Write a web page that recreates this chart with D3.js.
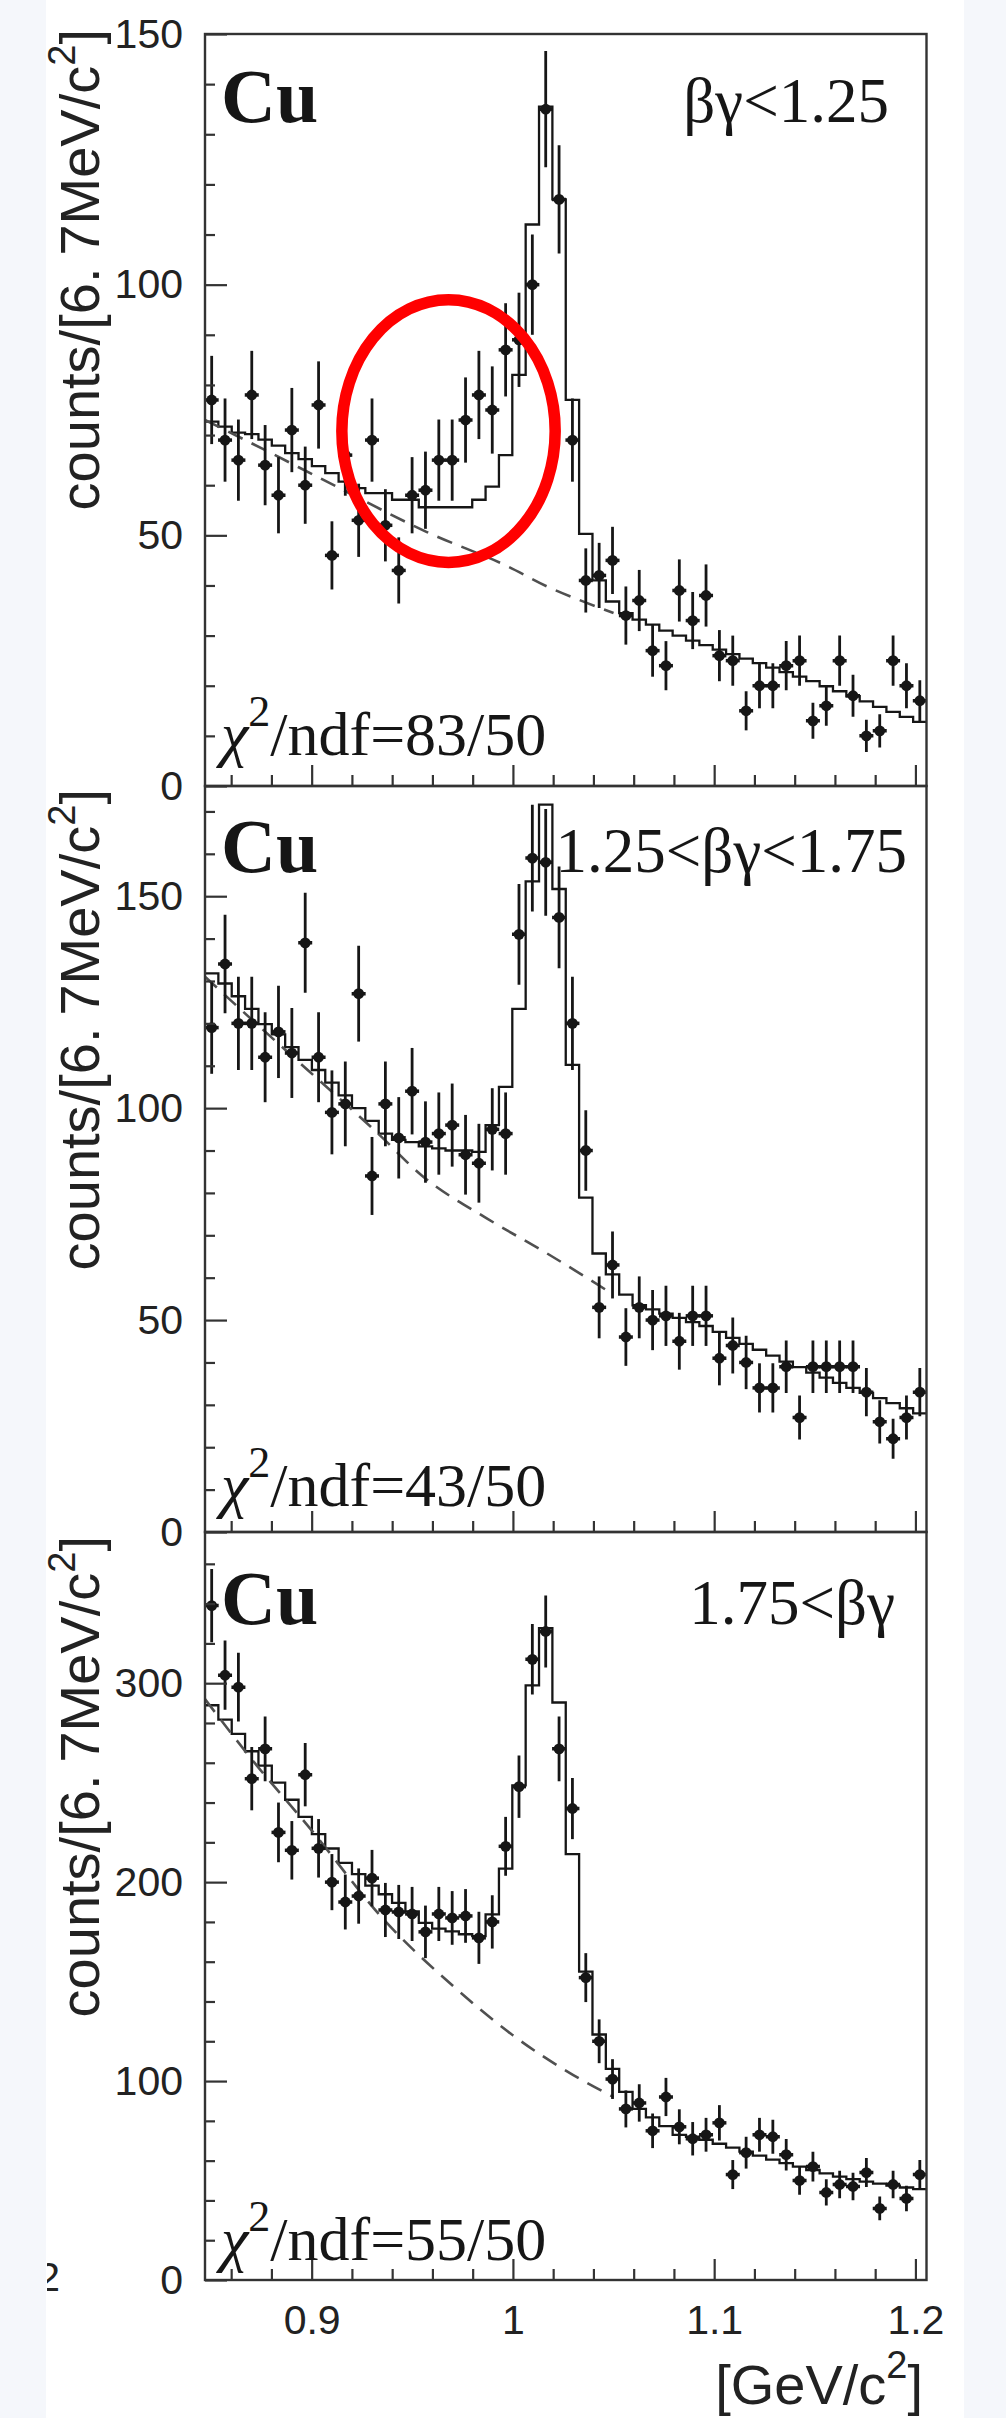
<!DOCTYPE html>
<html>
<head>
<meta charset="utf-8">
<script src="https://cdn.jsdelivr.net/npm/d3@7"></script>
<style>
  html, body { margin: 0; padding: 0; background: #f5f7fb; }
  svg { display: block; }
</style>
</head>
<body>
<svg id="chart" width="1006" height="2418"></svg>
<script>
// binning of the invariant mass histograms (54 bins, ~6.7 MeV each)
const massRange = [0.847, 1.2055];
const nBins = 54;

const xTickValues = [0.9, 1.0, 1.1, 1.2];
const xTickLabels = ['0.9', '1', '1.1', '1.2'];

const rangeLabels = ['βγ<1.25', '1.25<βγ<1.75', '1.75<βγ'];
const chi2Labels = ['83/50', '43/50', '55/50'];

const yMaxes = [150, 176, 376];
const yMajorTicks = [[0, 50, 100, 150], [0, 50, 100, 150], [0, 100, 200, 300]];
const yMinorSteps = [10, 10, 20];

// data points (counts per bin) and their errors
const countsLow = [77, 69, 65, 78, 64, 58, 71, 60, 76, 46, 66, 53, 69, 52, 43, 58, 59, 65, 65, 73,
  78, 75, 87, 89, 100, 135, 117, 69, 41, 42, 45, 34, 37, 27, 24, 39, 33, 38, 26, 25,
  15, 20, 20, 24, 25, 13, 16, 25, 18, 10, 11, 25, 20, 17];
const errorsLow = [8.8, 8.3, 8.1, 8.8, 8.0, 7.6, 8.4, 7.7, 8.7, 6.8, 8.1, 7.3, 8.3, 7.2, 6.6, 7.6, 7.7, 8.1, 8.1, 8.5,
  8.8, 8.7, 9.3, 9.4, 10.0, 11.6, 10.8, 8.3, 6.4, 6.5, 6.7, 5.8, 6.1, 5.2, 4.9, 6.2, 5.7, 6.2, 5.1, 5.0,
  3.9, 4.5, 4.5, 4.9, 5.0, 3.6, 4.0, 5.0, 4.2, 3.2, 3.3, 5.0, 4.5, 4.1];

const countsMid = [119, 134, 120, 120, 112, 118, 113, 139, 112, 99, 101, 127, 84, 101, 93, 104, 92, 94, 96, 89,
  87, 95, 94, 141, 159, 158, 145, 120, 90, 53, 63, 46, 53, 50, 51, 45, 51, 51, 41, 44,
  40, 34, 34, 39, 27, 39, 39, 39, 39, 33, 26, 22, 27, 33];
const errorsMid = [10.9, 11.6, 11.0, 11.0, 10.6, 10.9, 10.6, 11.8, 10.6, 9.9, 10.0, 11.3, 9.2, 10.0, 9.6, 10.2, 9.6, 9.7, 9.8, 9.4,
  9.3, 9.7, 9.7, 11.9, 12.6, 12.6, 12.0, 11.0, 9.5, 7.3, 7.9, 6.8, 7.3, 7.1, 7.1, 6.7, 7.1, 7.1, 6.4, 6.6,
  6.3, 5.8, 5.8, 6.2, 5.2, 6.2, 6.2, 6.2, 6.2, 5.7, 5.1, 4.7, 5.2, 5.7];

const countsHigh = [339, 304, 298, 252, 267, 225, 216, 254, 217, 200, 190, 193, 202, 186, 185, 184, 175, 184, 182, 183,
  172, 180, 218, 248, 312, 326, 267, 237, 152, 120, 101, 86, 89, 75, 92, 77, 71, 73, 79, 53,
  64, 73, 72, 63, 50, 57, 44, 48, 47, 54, 36, 48, 41, 53];
const errorsHigh = [18.4, 17.4, 17.3, 15.9, 16.3, 15.0, 14.7, 15.9, 14.7, 14.1, 13.8, 13.9, 14.2, 13.6, 13.6, 13.6, 13.2, 13.6, 13.5, 13.5,
  13.1, 13.4, 14.8, 15.7, 17.7, 18.1, 16.3, 15.4, 12.3, 11.0, 10.0, 9.3, 9.4, 8.7, 9.6, 8.8, 8.4, 8.5, 8.9, 7.3,
  8.0, 8.5, 8.5, 7.9, 7.1, 7.5, 6.6, 6.9, 6.9, 7.3, 6.0, 6.9, 6.4, 7.3];

// fitted spectrum, one value per bin (drawn as a histogram)
const fitLow = [72.7, 71.7, 70.5, 70.2, 69.1, 67.9, 66.4, 65.2, 63.8, 62.4, 60.7, 59.4, 58.4, 58.4, 57.1, 57.1, 55.6, 55.6, 55.6, 55.6,
  57.1, 59.7, 66.0, 82.0, 112.0, 135.5, 117.0, 77.0, 50.3, 41.0, 36.8, 34.5, 33.2, 32.2, 31.0, 30.0, 29.0, 28.1, 27.2, 26.3,
  25.4, 24.5, 23.6, 22.7, 21.8, 20.9, 19.9, 18.9, 17.9, 16.9, 15.8, 14.8, 13.8, 12.8];
const fitMid = [131.8, 129.4, 126.4, 123.4, 119.8, 117.4, 114.4, 111.4, 109.0, 106.0, 103.0, 100.0, 97.0, 94.0, 92.5, 92.0, 91.0, 90.5, 90.0, 90.0,
  89.7, 96.0, 105.0, 123.4, 153.5, 171.6, 151.7, 110.2, 78.9, 65.7, 60.8, 56.0, 53.5, 52.5, 51.5, 50.5, 49.5, 48.6, 47.2, 45.8,
  44.4, 43.0, 41.6, 40.2, 38.9, 37.6, 36.4, 35.2, 34.0, 32.8, 31.6, 30.4, 29.2, 28.0];
const fitHigh = [288.9, 281.7, 274.5, 265.8, 258.6, 250.0, 241.4, 232.8, 224.1, 216.9, 209.7, 204.0, 198.2, 193.9, 189.6, 185.3, 179.5, 176.6, 175.2, 173.8,
  172.9, 183.8, 206.8, 248.6, 298.9, 327.7, 290.3, 214.1, 155.0, 123.4, 106.1, 94.6, 86.0, 81.7, 77.3, 73.0, 72.0, 70.5, 68.5, 66.5,
  64.5, 62.5, 60.5, 58.8, 57.0, 55.3, 53.6, 52.0, 50.7, 49.5, 48.4, 47.4, 46.5, 45.7];

// background component (dashed curve)
const bgMassLow = [0.847, 0.870, 0.911, 0.957, 0.998, 1.017, 1.033, 1.050];
const bgLow = [73.0, 68.4, 60.0, 50.7, 43.7, 39.8, 37.1, 34.5];
const bgMassMid = [0.847, 0.870, 0.898, 0.933, 0.955, 0.987, 1.016, 1.050];
const bgMid = [131.0, 121.0, 109.0, 94.0, 84.0, 74.0, 66.0, 56.0];
const bgMassHigh = [0.847, 0.870, 0.900, 0.936, 0.970, 1.000, 1.030, 1.050];
const bgHigh = [292, 262, 226, 181, 148, 123, 103, 92];

// red ellipse marking the low-mass excess in the first panel (data coords)
const markMass = [0.915, 1.021];
const markCounts = [44.6, 97.0];

const panels = [
  { counts: countsLow, errors: errorsLow, fit: fitLow, bgMass: bgMassLow, bg: bgLow },
  { counts: countsMid, errors: errorsMid, fit: fitMid, bgMass: bgMassMid, bg: bgMid },
  { counts: countsHigh, errors: errorsHigh, fit: fitHigh, bgMass: bgMassHigh, bg: bgHigh },
];

// layout
const frameLeft = 205, frameRight = 926.5;
const panelTops = [34, 786, 1532];
const panelBottoms = [786, 1532, 2280];
const yTitleEnds = [29, 789, 1536];
const labelBase = [88, 86, 92];
const rangeRight = [889, 907, 895];
const chiBase = [31, 26, 20];

const sans = "'Liberation Sans', Arial, Helvetica, sans-serif";
const serif = "'Liberation Serif', 'Times New Roman', Times, serif";
const ink = '#161616';

const svg = d3.select('#chart');

// white paper between the light side margins
svg.append('rect').attr('x', 46).attr('y', 0).attr('width', 918).attr('height', 2418).attr('fill', '#fff');
svg.append('clipPath').attr('id', 'paper')
  .append('rect').attr('x', 47).attr('y', 0).attr('width', 917).attr('height', 2418);

// cut-off label of the neighbouring figure at the left edge
svg.append('text').attr('x', 60).attr('y', 2278).attr('dy', '0.32em').attr('text-anchor', 'end')
  .attr('clip-path', 'url(#paper)').attr('font-family', sans).attr('font-size', 41).attr('fill', '#222')
  .text('2');

const x = d3.scaleLinear().domain(massRange).range([frameLeft, frameRight]);
const binWidth = (massRange[1] - massRange[0]) / nBins;
const binEdges = d3.range(nBins + 1).map((i) => massRange[0] + i * binWidth);

panels.forEach((p, k) => {
  const top = panelTops[k], bottom = panelBottoms[k];
  const y = d3.scaleLinear().domain([0, yMaxes[k]]).range([bottom, top]);

  svg.append('clipPath').attr('id', 'clip' + k)
    .append('rect').attr('x', frameLeft).attr('y', top)
    .attr('width', frameRight - frameLeft).attr('height', bottom - top);

  const g = svg.append('g').attr('clip-path', `url(#clip${k})`);

  // fit histogram
  const steps = p.fit.map((v, i) => [binEdges[i], v]);
  steps.push([binEdges[nBins], p.fit[nBins - 1]]);
  g.append('path')
    .attr('d', d3.line().x((d) => x(d[0])).y((d) => y(d[1])).curve(d3.curveStepAfter)(steps))
    .attr('fill', 'none').attr('stroke', ink).attr('stroke-width', 2.3);

  // background curve
  g.append('path')
    .attr('d', d3.line().x((d, i) => x(p.bgMass[i])).y((d) => y(d)).curve(d3.curveMonotoneX)(p.bg))
    .attr('fill', 'none').attr('stroke', '#505050').attr('stroke-width', 2.6)
    .attr('stroke-dasharray', '16,10');

  // data points with error bars
  const pts = g.selectAll('.pt').data(p.counts).enter().append('g').attr('class', 'pt')
    .attr('transform', (d, i) => `translate(${x(binEdges[i] + binWidth / 2)},0)`);
  pts.append('line')
    .attr('y1', (d, i) => y(d - p.errors[i])).attr('y2', (d, i) => y(d + p.errors[i]))
    .attr('stroke', ink).attr('stroke-width', 2.8);
  pts.append('line')
    .attr('x1', -7).attr('x2', 7).attr('y1', (d) => y(d)).attr('y2', (d) => y(d))
    .attr('stroke', ink).attr('stroke-width', 3.5);
  pts.append('circle').attr('cy', (d) => y(d)).attr('r', 5.4).attr('fill', ink);

  // frame
  svg.append('rect').attr('x', frameLeft).attr('y', top)
    .attr('width', frameRight - frameLeft).attr('height', bottom - top)
    .attr('fill', 'none').attr('stroke', '#333').attr('stroke-width', 2.4);

  // y axis: major ticks with labels, minor ticks
  const yAxis = svg.append('g').attr('transform', `translate(${frameLeft},0)`)
    .call(d3.axisLeft(y).tickValues(yMajorTicks[k]).tickSizeInner(-22).tickSizeOuter(0)
      .tickPadding(22).tickFormat(d3.format('d')));
  const minors = d3.range(0, yMaxes[k], yMinorSteps[k]).filter((v) => !yMajorTicks[k].includes(v));
  const yMinor = svg.append('g').attr('transform', `translate(${frameLeft},0)`)
    .call(d3.axisLeft(y).tickValues(minors).tickSizeInner(-10).tickSizeOuter(0).tickFormat(''));

  // x axis ticks at the bottom of every panel, labels only on the last one
  const xMinor = d3.range(0.86, 1.205, 0.02).filter((v) => !xTickValues.some((t) => Math.abs(t - v) < 1e-6));
  const xAxis = svg.append('g').attr('transform', `translate(0,${bottom})`)
    .call(d3.axisBottom(x).tickValues(xTickValues).tickSizeInner(-21).tickSizeOuter(0)
      .tickPadding(25).tickFormat((d, i) => (k === 2 ? xTickLabels[i] : '')));
  const xMin = svg.append('g').attr('transform', `translate(0,${bottom})`)
    .call(d3.axisBottom(x).tickValues(xMinor).tickSizeInner(-11).tickSizeOuter(0).tickFormat(''));

  [yAxis, yMinor, xAxis, xMin].forEach((a) => {
    a.select('.domain').remove();
    a.selectAll('line').attr('stroke', '#333').attr('stroke-width', 2.2);
    a.selectAll('text').attr('font-family', sans).attr('font-size', 41).attr('fill', '#222');
  });

  // y title
  const yt = svg.append('text')
    .attr('transform', `translate(99,${yTitleEnds[k]}) rotate(-90)`)
    .attr('text-anchor', 'end').attr('font-family', sans).attr('font-size', 56).attr('fill', '#222');
  yt.append('tspan').text('counts/[6.');
  yt.append('tspan').attr('dx', 12).text('7MeV/c');
  yt.append('tspan').attr('dy', -24).attr('font-size', 38).text('2');
  yt.append('tspan').attr('dy', 24).text(']');

  // panel labels
  svg.append('text').attr('x', 221).attr('y', top + labelBase[k])
    .attr('font-family', serif).attr('font-weight', 'bold').attr('font-size', 76).attr('fill', ink)
    .text('Cu');
  svg.append('text').attr('x', rangeRight[k]).attr('y', top + labelBase[k])
    .attr('text-anchor', 'end').attr('font-family', serif).attr('font-size', 63).attr('fill', ink)
    .text(rangeLabels[k]);

  const chi = svg.append('text').attr('x', 221).attr('y', bottom - chiBase[k])
    .attr('font-family', serif).attr('font-size', 62).attr('fill', ink);
  chi.append('tspan').attr('font-style', 'italic').text('χ');
  chi.append('tspan').attr('dy', -29).attr('font-size', 44).text('2');
  chi.append('tspan').attr('dy', 29).text('/ndf=' + chi2Labels[k]);

  if (k === 0) {
    g.append('ellipse')
      .attr('cx', (x(markMass[0]) + x(markMass[1])) / 2)
      .attr('cy', (y(markCounts[0]) + y(markCounts[1])) / 2)
      .attr('rx', (x(markMass[1]) - x(markMass[0])) / 2)
      .attr('ry', (y(markCounts[0]) - y(markCounts[1])) / 2)
      .attr('fill', 'none').attr('stroke', '#ff0000').attr('stroke-width', 11.5);
  }
});

// x title
const xt = svg.append('text').attr('x', 923).attr('y', 2404).attr('text-anchor', 'end')
  .attr('font-family', sans).attr('font-size', 56).attr('fill', '#222');
xt.append('tspan').text('[GeV/c');
xt.append('tspan').attr('dy', -26).attr('font-size', 38).text('2');
xt.append('tspan').attr('dy', 26).text(']');
</script>
</body>
</html>
